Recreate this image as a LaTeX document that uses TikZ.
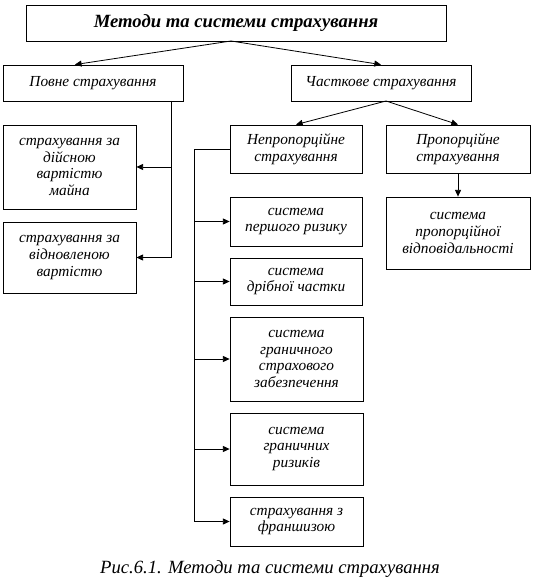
\documentclass[tikz,border=0pt]{standalone}
\usepackage{fontspec}
\setmainfont{Liberation Serif}
\usetikzlibrary{arrows.meta,calc}
\begin{document}
\begin{tikzpicture}[x=0.75pt,y=-0.75pt,
 box/.style={draw,line width=0.6pt,align=center,inner sep=1pt,font=\itshape\fontsize{11.5}{12.5}\selectfont},
 arr/.style={-{Triangle[length=5pt,width=4.5pt]},line width=0.6pt},
 ln/.style={line width=0.6pt}]
\useasboundingbox (0,0) rectangle (539,584);
\node[box,minimum width=315pt,minimum height=27pt,font=\bfseries\itshape\fontsize{14}{16}\selectfont] (title) at (236,23) {Методи та системи страхування};
\node[box,minimum width=135pt,minimum height=27pt] (povne) at (93,83) {Повне страхування};
\node[box,minimum width=135pt,minimum height=27pt] (chast) at (381,83) {Часткове страхування};
\node[box,minimum width=99.75pt,minimum height=63pt] (diysn) at (69.5,167) {страхування за\\дійсною\\вартістю\\майна};
\node[box,minimum width=99.75pt,minimum height=53.25pt] (vidn) at (69.5,257.5) {страхування за\\відновленою\\вартістю};
\node[box,minimum width=99pt,minimum height=36pt] (neprop) at (296,149) {Непропорційне\\страхування};
\node[box,minimum width=108pt,minimum height=36pt] (prop) at (458,149) {Пропорційне\\страхування};
\node[box,minimum width=108pt,minimum height=54pt] (propv) at (458,233) {система\\пропорційної\\відповідальності};
\node[box,minimum width=99pt,minimum height=36.75pt] (persh) at (296,221.5) {система\\першого ризику};
\node[box,minimum width=99pt,minimum height=35.25pt] (dribn) at (296,281.5) {система\\дрібної частки};
\node[box,minimum width=99.75pt,minimum height=63pt] (granz) at (296.5,359) {система\\граничного\\страхового\\забезпечення};
\node[box,minimum width=99.75pt,minimum height=54pt] (granr) at (296.5,449) {система\\граничних\\ризиків};
\node[box,minimum width=99.75pt,minimum height=36.75pt] (fran) at (296.5,521.5) {страхування з\\франшизою};
\node[font=\itshape\fontsize{14}{16}\selectfont] (cap) at (270,569) {Рис.6.1. Методи та системи страхування};
% top arrows
\coordinate (ts) at (231,41);
\coordinate (pt) at ($(povne.north west)!0.4!(povne.north east)$);
\draw[arr] (ts) -- (pt);
\draw[arr] (ts) -- (chast.north);
\coordinate (cs) at (386,101);
\draw[arr] (cs) -- (neprop.north);
\draw[arr] (cs) -- (prop.north);
\draw[arr] (prop.south) -- (propv.north);
% left bus
\coordinate (lb) at (171,101);
\draw[ln] (lb) |- (vidn.east);
\draw[arr] (lb |- diysn.east) -- (diysn.east);
\draw[arr] (lb |- vidn.east) -- (vidn.east);
% right bus
\coordinate (rb) at (194,149);
\draw[ln] (neprop.west) -- (rb) -- (rb |- fran.west);
\draw[arr] (rb |- persh.west) -- (persh.west);
\draw[arr] (rb |- dribn.west) -- (dribn.west);
\draw[arr] (rb |- granz.west) -- (granz.west);
\draw[arr] (rb |- granr.west) -- (granr.west);
\draw[arr] (rb |- fran.west) -- (fran.west);
\end{tikzpicture}
\end{document}
